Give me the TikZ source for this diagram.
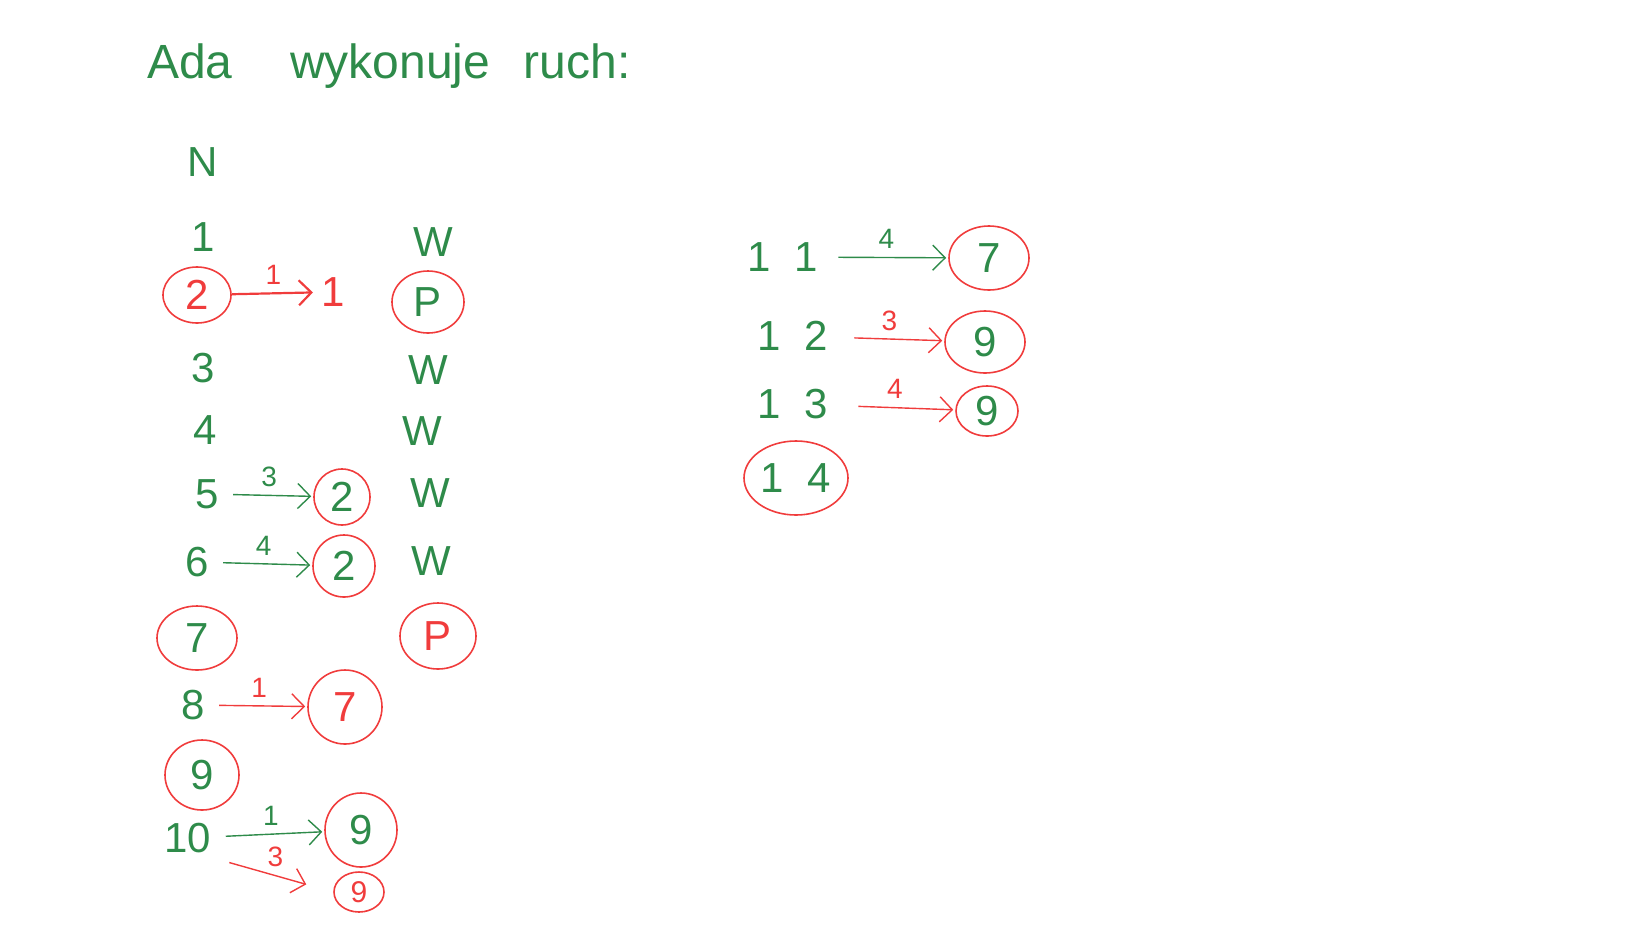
\documentclass[tikz,border=0pt]{standalone}
\usepackage{fontspec}
\setmainfont{Liberation Sans}
\usetikzlibrary{arrows.meta,shapes.geometric}
\definecolor{penGreen}{HTML}{2E8B4A}
\definecolor{penRed}{HTML}{F03C3C}

\begin{document}
\begin{tikzpicture}[x=0.5pt, y=-0.5pt,
  num/.style={text=penGreen, font=\fontsize{21}{24}\selectfont, inner sep=3pt},
  lbl/.style={font=\fontsize{14}{16}\selectfont, inner sep=1pt, above=3pt},
  ring/.style={ellipse, draw=penRed, line width=0.8pt, inner sep=0pt},
  move/.style={-{Straight Barb[length=2.2mm]}, line width=0.7pt, shorten >=1pt, shorten <=4pt}
]
\useasboundingbox (0,0) rectangle (1648,927);
\node[anchor=base west, text=penGreen, font=\fontsize{24}{28}\selectfont] (title) at (140,78) {Ada\hspace{1.2em}wykonuje\hspace{0.7em}ruch:};

% lewa kolumna
\node[num] (n) at (203,162) {N};
\node[num] (r1) at (203,237) {1};
\node[num, ring, text=penRed, minimum width=34pt, minimum height=28pt] (r2) at (197,295) {2};
\node[num] (r3) at (203,368) {3};
\node[num] (r4) at (205,430) {4};
\node[num] (r5) at (207,494) {5};
\node[num] (r6) at (197,562) {6};
\node[num, ring, minimum width=40pt, minimum height=32pt] (r7) at (197,638) {7};
\node[num] (r8) at (193,705) {8};
\node[num, ring, minimum width=37pt, minimum height=35pt] (r9) at (202,775) {9};
\node[num] (r10) at (188,838) {10};

% cele ruchow
\node[num, text=penRed] (t2) at (333,292) {1};
\node[num, ring, minimum width=28pt, minimum height=28pt] (t5) at (342,497) {2};
\node[num, ring, minimum width=31pt, minimum height=31pt] (t6) at (344,566) {2};
\node[num, ring, text=penRed, minimum width=37pt, minimum height=37pt] (t8) at (345,707) {7};
\node[num, ring, minimum width=36pt, minimum height=37pt] (t10) at (361,830) {9};
\node[num, ring, text=penRed, font=\fontsize{15}{18}\selectfont, minimum width=25pt, minimum height=20pt] (t10b) at (359,892) {9};

% W/P
\node[num] (w1) at (433,242) {W};
\node[num, ring, minimum width=36pt, minimum height=31pt] (w2) at (428,302) {P};
\node[num] (w3) at (428,370) {W};
\node[num] (w4) at (422,431) {W};
\node[num] (w5) at (430,493) {W};
\node[num] (w6) at (431,561) {W};
\node[num, ring, text=penRed, minimum width=38pt, minimum height=33pt] (w7) at (438,636) {P};

% prawa kolumna
\node[num] (e11) at (783,257) {1\ \ 1};
\node[num] (e12) at (793,336) {1\ \ 2};
\node[num] (e13) at (793,404) {1\ \ 3};
\node[num, ring, minimum width=52pt, minimum height=37pt] (e14) at (796,478) {1\ \ 4};
\node[num, ring, minimum width=40pt, minimum height=32pt] (f11) at (989,258) {7};
\node[num, ring, minimum width=40pt, minimum height=31pt] (f12) at (985,342) {9};
\node[num, ring, minimum width=31pt, minimum height=25pt] (f13) at (987,411) {9};

\draw[move, penRed, line width=1.1pt, shorten <=0pt] (r2) -- (t2) node[lbl, midway, text=penRed] {1};
\draw[move, penGreen] (r5) -- (t5) node[lbl, midway, text=penGreen] {3};
\draw[move, penGreen] (r6) -- (t6) node[lbl, midway, text=penGreen] {4};
\draw[move, penRed] (r8) -- (t8) node[lbl, midway, text=penRed] {1};
\draw[move, penGreen] (r10) -- (t10) node[lbl, midway, text=penGreen] {1};
\draw[move, penRed, shorten >=14pt, shorten <=6pt] (r10.south east) -- (t10b.west) node[lbl, midway, text=penRed] {3};
\draw[move, penGreen, shorten <=7pt] (e11) -- (f11) node[lbl, midway, text=penGreen] {4};
\draw[move, penRed, shorten <=10pt] (e12) -- (f12) node[lbl, midway, text=penRed] {3};
\draw[move, penRed, shorten <=12pt] (e13) -- (f13) node[lbl, midway, text=penRed] {4};
\end{tikzpicture}
\end{document}
